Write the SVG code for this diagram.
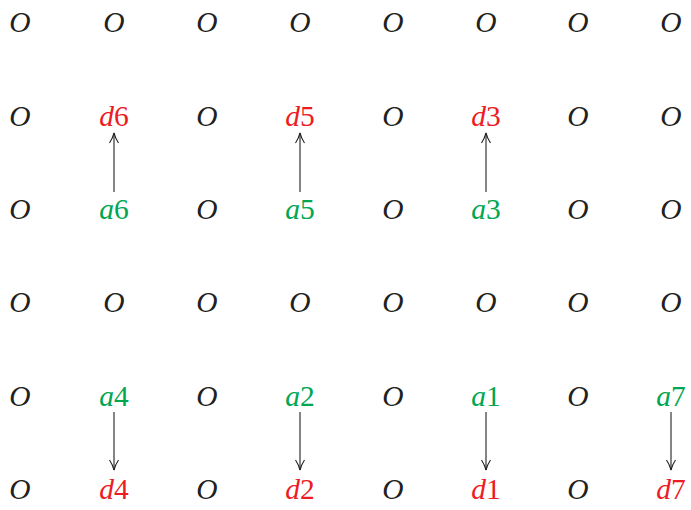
<svg xmlns="http://www.w3.org/2000/svg" width="691" height="510" viewBox="0 0 691 510">
<style>
text{font-family:"Liberation Serif","DejaVu Serif",serif;font-size:29.5px;text-anchor:middle;fill:#231f20}
.i{font-style:italic}
.r{fill:#ed1c24}
.g{fill:#00a651}
.c{stroke:#231f20;stroke-width:1.1;fill:none}
</style>
<defs>
<marker id="ah" viewBox="0 0 12 12" refX="11" refY="6" markerWidth="12" markerHeight="12" markerUnits="userSpaceOnUse" orient="auto">
<path d="M1,1.5 Q6,4.8 11,6 Q6,7.2 1,10.5" fill="none" stroke="#231f20" stroke-width="1.1"/>
</marker>
</defs>
<g id="row1">
<text class="i" x="20" y="32">O</text><text class="i" x="114" y="32">O</text><text class="i" x="207" y="32">O</text><text class="i" x="300" y="32">O</text><text class="i" x="393" y="32">O</text><text class="i" x="486" y="32">O</text><text class="i" x="578" y="32">O</text><text class="i" x="671" y="32">O</text>
</g>
<g id="row2">
<text class="i" x="20" y="126">O</text>
<g id="d6"><text class="r" x="114" y="126"><tspan class="i">d</tspan>6</text></g>
<text class="i" x="207" y="126">O</text>
<g id="d5"><text class="r" x="300" y="126"><tspan class="i">d</tspan>5</text></g>
<text class="i" x="393" y="126">O</text>
<g id="d3"><text class="r" x="486" y="126"><tspan class="i">d</tspan>3</text></g>
<text class="i" x="578" y="126">O</text><text class="i" x="671" y="126">O</text>
</g>
<g id="row3">
<text class="i" x="20" y="219">O</text>
<g id="a6"><text class="g" x="114" y="219"><tspan class="i">a</tspan>6</text></g>
<text class="i" x="207" y="219">O</text>
<g id="a5"><text class="g" x="300" y="219"><tspan class="i">a</tspan>5</text></g>
<text class="i" x="393" y="219">O</text>
<g id="a3"><text class="g" x="486" y="219"><tspan class="i">a</tspan>3</text></g>
<text class="i" x="578" y="219">O</text><text class="i" x="671" y="219">O</text>
</g>
<g id="row4">
<text class="i" x="20" y="312">O</text><text class="i" x="114" y="312">O</text><text class="i" x="207" y="312">O</text><text class="i" x="300" y="312">O</text><text class="i" x="393" y="312">O</text><text class="i" x="486" y="312">O</text><text class="i" x="578" y="312">O</text><text class="i" x="671" y="312">O</text>
</g>
<g id="row5">
<text class="i" x="20" y="406">O</text>
<g id="a4"><text class="g" x="114" y="406"><tspan class="i">a</tspan>4</text></g>
<text class="i" x="207" y="406">O</text>
<g id="a2"><text class="g" x="300" y="406"><tspan class="i">a</tspan>2</text></g>
<text class="i" x="393" y="406">O</text>
<g id="a1"><text class="g" x="486" y="406"><tspan class="i">a</tspan>1</text></g>
<text class="i" x="578" y="406">O</text>
<g id="a7"><text class="g" x="671" y="406"><tspan class="i">a</tspan>7</text></g>
</g>
<g id="row6">
<text class="i" x="20" y="499">O</text>
<g id="d4"><text class="r" x="114" y="499"><tspan class="i">d</tspan>4</text></g>
<text class="i" x="207" y="499">O</text>
<g id="d2"><text class="r" x="300" y="499"><tspan class="i">d</tspan>2</text></g>
<text class="i" x="393" y="499">O</text>
<g id="d1"><text class="r" x="486" y="499"><tspan class="i">d</tspan>1</text></g>
<text class="i" x="578" y="499">O</text>
<g id="d7"><text class="r" x="671" y="499"><tspan class="i">d</tspan>7</text></g>
</g>
<g id="connectors">
<line class="c" x1="114" y1="192" x2="114" y2="133" marker-end="url(#ah)"/>
<line class="c" x1="300" y1="192" x2="300" y2="133" marker-end="url(#ah)"/>
<line class="c" x1="486" y1="192" x2="486" y2="133" marker-end="url(#ah)"/>
<line class="c" x1="114" y1="412" x2="114" y2="470" marker-end="url(#ah)"/>
<line class="c" x1="300" y1="412" x2="300" y2="470" marker-end="url(#ah)"/>
<line class="c" x1="486" y1="412" x2="486" y2="470" marker-end="url(#ah)"/>
<line class="c" x1="671" y1="412" x2="671" y2="470" marker-end="url(#ah)"/>
</g>
</svg>
